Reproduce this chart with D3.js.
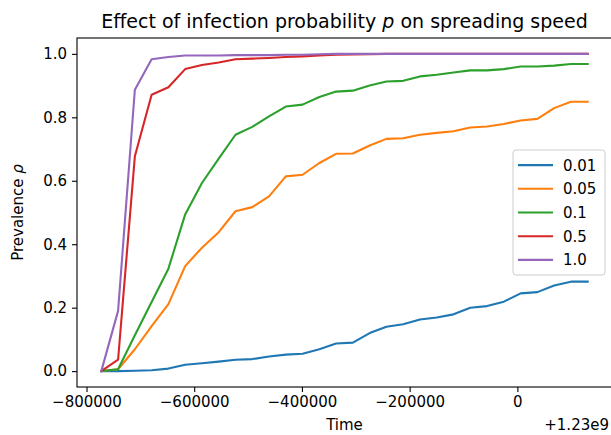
<!DOCTYPE html>
<html><head><meta charset="utf-8">
<script src="https://cdn.jsdelivr.net/npm/d3@7"></script>
<style>
body{margin:0;background:#fff}
svg{display:block}
text{font-family:"DejaVu Sans",sans-serif;fill:#000}
</style></head>
<body>
<svg id="chart" width="611" height="435"></svg>
<script>
// ---- data ----
const OFFSET = 1.23e9;
const times = [
  1229227500, 1229258640, 1229289780, 1229320920, 1229352060, 1229383200,
  1229414340, 1229445480, 1229476620, 1229507760, 1229538900, 1229570040,
  1229601180, 1229632320, 1229663460, 1229694600, 1229725740, 1229756880,
  1229788020, 1229819160, 1229850300, 1229881440, 1229912580, 1229943720,
  1229974860, 1230006000, 1230037140, 1230068280, 1230099420, 1230130560
];
const seriesNames = ["0.01", "0.05", "0.1", "0.5", "1.0"];
const p001 = [0, 0, 0.001, 0.003, 0.008, 0.020, 0.025, 0.030, 0.036, 0.038,
  0.046, 0.052, 0.055, 0.069, 0.087, 0.090, 0.120, 0.140, 0.148, 0.163,
  0.169, 0.179, 0.200, 0.205, 0.219, 0.245, 0.249, 0.270, 0.282, 0.282];
const p005 = [0, 0.006, 0.069, 0.142, 0.211, 0.331, 0.389, 0.438, 0.504, 0.517,
  0.551, 0.614, 0.619, 0.656, 0.685, 0.686, 0.711, 0.732, 0.734, 0.745,
  0.751, 0.756, 0.768, 0.771, 0.779, 0.790, 0.795, 0.829, 0.849, 0.849];
const p01 = [0, 0.006, 0.113, 0.218, 0.323, 0.494, 0.593, 0.670, 0.745, 0.770,
  0.803, 0.834, 0.840, 0.864, 0.881, 0.884, 0.900, 0.913, 0.915, 0.929,
  0.934, 0.941, 0.948, 0.948, 0.952, 0.960, 0.960, 0.963, 0.968, 0.968];
const p05 = [0, 0.036, 0.677, 0.871, 0.895, 0.952, 0.965, 0.973, 0.983, 0.985,
  0.987, 0.990, 0.992, 0.995, 0.997, 0.998, 0.999, 1, 1, 1,
  1, 1, 1, 1, 1, 1, 1, 1, 1, 1];
const p10 = [0, 0.190, 0.887, 0.983, 0.990, 0.995, 0.995, 0.995, 0.996, 0.996,
  0.996, 0.997, 0.997, 0.999, 1, 1, 1, 1, 1, 1,
  1, 1, 1, 1, 1, 1, 1, 1, 1, 1];
const seriesValues = [p001, p005, p01, p05, p10];
const yTickValues = [0, 0.2, 0.4, 0.6, 0.8, 1.0];
const xTickOffsets = [-800000, -600000, -400000, -200000, 0];
const titleText = "Effect of infection probability ";
const titleMath = "p";
const titleRest = " on spreading speed";

// ---- styles / layout ----
const palette = ["#1f77b4", "#ff7f0e", "#2ca02c", "#d62728", "#9467bd"];
const L = 77, R = 612, T = 38, B = 387;
const FS = 15;

const svg = d3.select("#chart");

const xExt = d3.extent(times), xPad = (xExt[1] - xExt[0]) * 0.05;
const allV = seriesValues.flat();
const yExt = d3.extent(allV), yPad = (yExt[1] - yExt[0]) * 0.05;
const x = d3.scaleLinear().domain([xExt[0] - xPad, xExt[1] + xPad]).range([L, R]);
const y = d3.scaleLinear().domain([yExt[0] - yPad, yExt[1] + yPad]).range([B, T]);

// lines
const line = d3.line().x((d, i) => x(times[i])).y(d => y(d));
const plot = svg.append("g");
seriesValues.forEach((vals, k) => {
  plot.append("path").datum(vals)
    .attr("d", line)
    .attr("fill", "none")
    .attr("stroke", palette[k])
    .attr("stroke-width", 2.1)
    .attr("stroke-linejoin", "round")
    .attr("stroke-linecap", "square");
});

// frame
svg.append("rect").attr("x", L).attr("y", T).attr("width", R - L).attr("height", B - T)
  .attr("fill", "none").attr("stroke", "#000").attr("stroke-width", 1.1);

// axes
const fmtX = d3.format("d");
const xAxis = d3.axisBottom(x)
  .tickValues(xTickOffsets.map(d => d + OFFSET))
  .tickFormat(d => fmtX(Math.round(d - OFFSET)))
  .tickSize(5).tickPadding(4);
const gx = svg.append("g").attr("transform", `translate(0,${B})`).call(xAxis);
gx.select(".domain").remove();
gx.selectAll("line").attr("stroke", "#000").attr("stroke-width", 1.1);
gx.selectAll("text").attr("font-size", FS).attr("font-family", "DejaVu Sans").attr("fill", "#000");

const yAxis = d3.axisLeft(y).tickValues(yTickValues).tickFormat(d3.format(".1f"))
  .tickSize(5).tickPadding(5);
const gy = svg.append("g").attr("transform", `translate(${L},0)`).call(yAxis);
gy.select(".domain").remove();
gy.selectAll("line").attr("stroke", "#000").attr("stroke-width", 1.1);
gy.selectAll("text").attr("font-size", FS).attr("font-family", "DejaVu Sans").attr("fill", "#000");

// labels
svg.append("text").attr("x", (L + R) / 2).attr("y", 430).attr("text-anchor", "middle")
  .attr("font-size", FS).text("Time");
svg.append("text").attr("x", 609).attr("y", 430).attr("text-anchor", "end")
  .attr("font-size", FS).text("+1.23e9");
const yl = svg.append("text").attr("transform", `translate(23,${(T + B) / 2}) rotate(-90)`)
  .attr("text-anchor", "middle").attr("font-size", FS);
yl.append("tspan").text("Prevalence ");
yl.append("tspan").attr("font-style", "italic").text("ρ");

const tt = svg.append("text").attr("x", (L + R) / 2).attr("y", 28).attr("text-anchor", "middle")
  .attr("font-size", 19);
tt.append("tspan").text(titleText);
tt.append("tspan").attr("font-style", "italic").text(titleMath);
tt.append("tspan").text(titleRest);

// legend
const lgW = 92, lgH = 125;
const lgX = R - 7 - lgW, lgY = (T + B) / 2 - lgH / 2;
const lg = svg.append("g");
lg.append("rect").attr("x", lgX).attr("y", lgY).attr("width", lgW).attr("height", lgH)
  .attr("rx", 3).attr("fill", "#fff").attr("fill-opacity", 0.8)
  .attr("stroke", "#cccccc").attr("stroke-width", 1);
const rowH = 23.7;
seriesNames.forEach((name, k) => {
  const cy = (T + B) / 2 + (k - 2) * rowH;
  lg.append("line").attr("x1", lgX + 6).attr("x2", lgX + 39).attr("y1", cy).attr("y2", cy)
    .attr("stroke", palette[k]).attr("stroke-width", 2.1).attr("stroke-linecap", "square");
  lg.append("text").attr("x", lgX + 50).attr("y", cy).attr("dy", "0.36em")
    .attr("font-size", FS).text(name);
});
</script>
</body></html>
